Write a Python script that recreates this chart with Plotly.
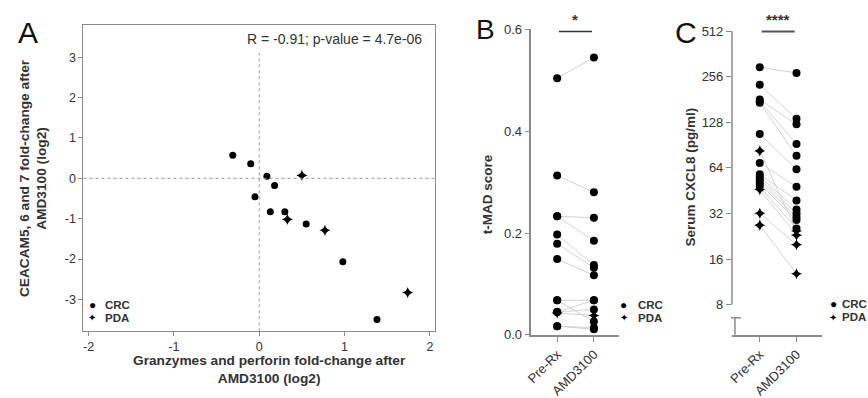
import plotly.graph_objects as go

W, H = 868, 398
FONT = "Arial, 'Liberation Sans', Helvetica, sans-serif"
AXC = "#8a8a8a"
TXT = "#333333"

# ---------------- Panel A data ----------------
a_x = [-0.31, -0.10, 0.09, 0.50, 0.18, -0.05, 0.13, 0.30, 0.33, 0.55, 0.77, 0.98, 1.38, 1.74]
a_y = [0.57, 0.36, 0.05, 0.07, -0.18, -0.46, -0.83, -0.83, -1.02, -1.13, -1.29, -2.07, -3.50, -2.83]
a_type = ["CRC", "CRC", "CRC", "PDA", "CRC", "CRC", "CRC", "CRC", "PDA", "CRC", "PDA", "CRC", "CRC", "PDA"]
a_xticks = [-2, -1, 0, 1, 2]
a_yticks = [-3, -2, -1, 0, 1, 2, 3]
a_stat = "R = -0.91; p-value = 4.7e-06"

# ---------------- Panel B data ----------------
categories = ["Pre-Rx", "AMD3100"]
b_pre = [0.504, 0.313, 0.233, 0.233, 0.197, 0.179, 0.149, 0.068, 0.068, 0.045, 0.045, 0.043, 0.017, 0.017]
b_post = [0.545, 0.280, 0.230, 0.185, 0.137, 0.132, 0.117, 0.068, 0.026, 0.068, 0.050, 0.038, 0.014, 0.011]
b_type = ["CRC"] * 11 + ["PDA"] + ["CRC"] * 2
b_yticks = [0.0, 0.2, 0.4, 0.6]
b_yticklabels = ["0.0", "0.2", "0.4", "0.6"]

# ---------------- Panel C data ----------------
c_pre = [295, 226, 181, 176, 172, 107, 82.8, 69, 58, 56, 54, 52, 50, 48, 46, 32.1, 26.8]
c_post = [271, 135, 124, 92, 77, 62.7, 24.5, 48, 39, 34, 32, 30.3, 29, 25.5, 23, 19.9, 12.8]
c_type = ["CRC"] * 6 + ["PDA"] + ["CRC"] * 7 + ["PDA"] * 3
c_yticks = [8, 16, 32, 64, 128, 256, 512]

def px(p):
    return p / W

def py(p):
    return 1 - p / H

def lab(v):
    return str(v).replace("\u2212", "-")

fig = go.Figure()

# ---- Panel A points
for t, sym, sz in [("CRC", "circle", 7), ("PDA", "star-diamond", 8)]:
    xs = [x for x, tt in zip(a_x, a_type) if tt == t]
    ys = [y for y, tt in zip(a_y, a_type) if tt == t]
    fig.add_trace(go.Scatter(x=xs, y=ys, mode="markers", xaxis="x", yaxis="y",
                             marker=dict(symbol=sym, size=sz, color="black"),
                             showlegend=False, cliponaxis=False))

# ---- Panel B & C paired lines + points
def paired(pre, post, types, xa, ya, size):
    lx, ly = [], []
    for p0, p1 in zip(pre, post):
        lx += [0, 1, None]
        ly += [p0, p1, None]
    fig.add_trace(go.Scatter(x=lx, y=ly, mode="lines", xaxis=xa, yaxis=ya,
                             line=dict(color="#d2d2d2", width=1), showlegend=False,
                             hoverinfo="skip"))
    for t, sym, sz in [("CRC", "circle", size), ("PDA", "star-diamond", size)]:
        xs, ys = [], []
        for p0, p1, tt in zip(pre, post, types):
            if tt == t:
                xs += [0, 1]
                ys += [p0, p1]
        fig.add_trace(go.Scatter(x=xs, y=ys, mode="markers", xaxis=xa, yaxis=ya,
                                 marker=dict(symbol=sym, size=sz, color="black"),
                                 showlegend=False, cliponaxis=False))

paired(b_pre, b_post, b_type, "x2", "y2", 8)
paired(c_pre, c_post, c_type, "x3", "y3", 8)

tickfont = dict(family=FONT, size=12.5, color=TXT)
tickfont13 = dict(family=FONT, size=13, color=TXT)

fig.update_layout(
    width=W, height=H, margin=dict(l=0, r=0, t=0, b=0),
    paper_bgcolor="white", plot_bgcolor="white",
    font=dict(family=FONT, color=TXT),
    xaxis=dict(domain=[px(78), px(432)], range=[-2.06, 2.06], tickvals=a_xticks,
               ticktext=[lab(v) for v in a_xticks],
               showline=True, mirror=True, linecolor=AXC, linewidth=1.2,
               ticks="outside", ticklen=4, tickcolor=AXC, tickfont=tickfont,
               showgrid=False, zeroline=False, anchor="y"),
    yaxis=dict(domain=[py(337), py(19)], range=[-3.79, 3.79], tickvals=a_yticks,
               ticktext=[lab(v) for v in a_yticks],
               showline=True, mirror=True, linecolor=AXC, linewidth=1.2,
               ticks="outside", ticklen=4, tickcolor=AXC, tickfont=tickfont,
               showgrid=False, zeroline=False, anchor="x"),
    xaxis2=dict(domain=[px(529), px(617)], range=[-0.703, 1.676], tickvals=[0, 1],
                ticktext=categories, tickangle=-45, showline=True, linecolor=AXC,
                linewidth=1.5, ticks="outside", ticklen=5, tickcolor=AXC,
                tickfont=tickfont13, showgrid=False, zeroline=False, anchor="y2"),
    yaxis2=dict(domain=[py(340.7), py(23.3)], range=[0, 0.6], tickvals=b_yticks,
                ticktext=b_yticklabels, showline=True, linecolor=AXC, linewidth=1.5,
                ticks="outside", ticklen=5, tickcolor=AXC, tickfont=tickfont13,
                showgrid=False, zeroline=False, anchor="x2"),
    xaxis3=dict(domain=[px(731), px(822)], range=[-0.757, 1.703], tickvals=[0, 1],
                ticktext=categories, tickangle=-45, showline=True, linecolor=AXC,
                linewidth=1.5, ticks="outside", ticklen=5, tickcolor=AXC,
                tickfont=tickfont13, showgrid=False, zeroline=False, anchor="y3"),
    yaxis3=dict(domain=[py(340.7), py(25)], type="log", range=[0.7038, 2.7093],
                tickvals=c_yticks, ticktext=[str(v) for v in c_yticks],
                showline=False, ticks="outside", ticklen=5, tickcolor=AXC,
                tickfont=tickfont13, showgrid=False, zeroline=False, anchor="x3"),
)

shapes = []
# Panel A reference lines
shapes.append(dict(type="line", xref="x domain", yref="y", x0=0, x1=1, y0=0, y1=0,
                   line=dict(color="#9a9a9a", width=1, dash="dot")))
shapes.append(dict(type="line", xref="x", yref="y", x0=0, x1=0, y0=-3.79, y1=3.1,
                   line=dict(color="#9a9a9a", width=1, dash="dot")))
# Panel C broken y axis
shapes.append(dict(type="line", xref="x3 domain", yref="y3", x0=0, x1=0, y0=8, y1=512,
                   line=dict(color=AXC, width=1.5)))
shapes.append(dict(type="line", xref="paper", yref="paper", x0=px(730), x1=px(740),
                   y0=py(323), y1=py(323), line=dict(color=AXC, width=1.5)))
shapes.append(dict(type="line", xref="paper", yref="paper", x0=px(734), x1=px(734),
                   y0=py(323), y1=py(340.7), line=dict(color=AXC, width=1.5)))
# significance bars
shapes.append(dict(type="line", xref="x2", yref="paper", x0=0.05, x1=0.95,
                   y0=py(25.5), y1=py(25.5), line=dict(color="#333", width=1.5)))
shapes.append(dict(type="line", xref="x3", yref="paper", x0=0.05, x1=0.95,
                   y0=py(25.5), y1=py(25.5), line=dict(color="#555", width=2)))
fig.update_layout(shapes=shapes)

ann = []
def text(x, y, s, size, bold=False, xanchor="center", yanchor="middle", angle=0, color=TXT):
    if bold:
        s = "<b>" + s.replace("<br>", "</b><br><b>") + "</b>"
    ann.append(dict(x=x, y=y, xref="paper", yref="paper", text=s, showarrow=False,
                    xanchor=xanchor, yanchor=yanchor, textangle=angle,
                    font=dict(family=FONT, size=size, color=color)))

# panel letters
text(px(22), py(27), "A", 30, color="#111")
text(px(483), py(23), "B", 28, color="#111")
text(px(685), py(26), "C", 30, color="#111")

# stat label
text(px(421), py(33), a_stat, 14, xanchor="right")

# axis titles
text(px(27), py(178), "CEACAM5, 6 and 7 fold-change after<br>AMD3100 (log2)", 13.7, bold=True, angle=-90)
text(px(265), py(377), "Granzymes and perforin fold-change after<br>AMD3100 (log2)", 13.7, bold=True)
text(px(485), py(195), "t-MAD score", 13.5, bold=True, angle=-90)
text(px(689), py(177), "Serum CXCL8 (pg/ml)", 13.5, bold=True, angle=-90)

# significance stars
text(px(573), py(24), "*", 15, bold=True, yanchor="bottom")
text(px(777), py(24), "****", 15, bold=True, yanchor="bottom")

# legends
for (mx, tx, y0) in [(87, 98, 309.5), (622, 634, 309.5), (833, 840, 309)]:
    text(px(mx), py(y0), "●", 12, color="black")
    text(px(mx), py(y0 + 13.5), "✦", 10, color="black")
    text(px(tx), py(y0), "CRC", 11.5, bold=True, xanchor="left")
    text(px(tx), py(y0 + 13.5), "PDA", 11.5, bold=True, xanchor="left")

fig.update_layout(annotations=ann)
fig.write_html("out.html", config={"displayModeBar": False},
               post_script="document.body.style.margin='0px';")
